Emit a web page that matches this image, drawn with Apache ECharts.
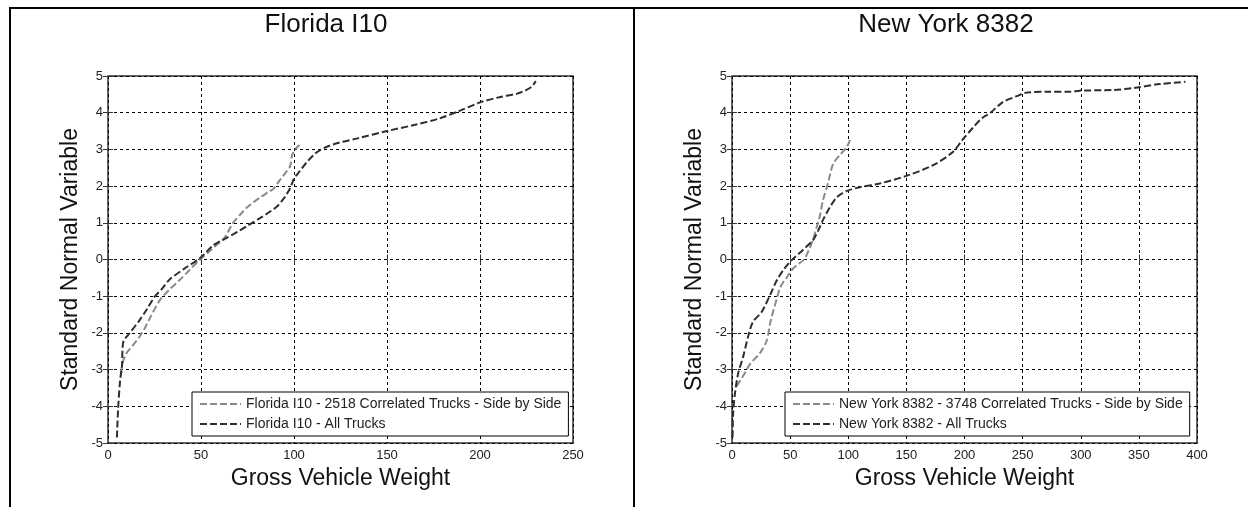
<!DOCTYPE html>
<html>
<head>
<meta charset="utf-8">
<title>GVW normal probability</title>
<script src="https://cdn.jsdelivr.net/npm/echarts@6/dist/echarts.min.js"></script>
<style>
  html, body { margin: 0; padding: 0; background: #fff; }
  #chart { width: 1248px; height: 507px; }
</style>
</head>
<body>
<div id="chart"></div>
<script>
// panel titles and legend names
var titles = ["Florida I10", "New York 8382"];
var flNames = ["Florida I10 - 2518 Correlated Trucks - Side by Side", "Florida I10 - All Trucks"];
var nyNames = ["New York 8382 - 3748 Correlated Trucks - Side by Side", "New York 8382 - All Trucks"];

// [gross vehicle weight, standard normal variable]
var flCorr = [
  [7, -3.1], [8, -2.8], [10, -2.55], [14, -2.3], [17, -2.1], [20, -1.85], [23, -1.55],
  [28, -1.1], [33, -0.82], [38.5, -0.56], [44, -0.28], [49.5, 0.0], [54, 0.2], [58.5, 0.4],
  [62, 0.55], [64, 0.7], [67, 0.98], [71, 1.22], [75, 1.43], [81.5, 1.68], [86, 1.83],
  [89, 1.93], [92.5, 2.17], [96, 2.4], [98, 2.55], [99, 2.85], [101.5, 3.05], [103, 3.12]
];
var flAll = [
  [4.8, -4.85], [5.4, -4.1], [6.5, -3.3], [7.5, -2.9], [8.2, -2.25], [11.8, -2.0], [17, -1.65],
  [21, -1.35], [25, -1.02], [29, -0.8], [33, -0.55], [41, -0.25], [49.5, 0.04], [56.5, 0.38],
  [63, 0.57], [69.5, 0.75], [75, 0.92], [81.5, 1.12], [87, 1.3], [91, 1.45], [95, 1.7],
  [98, 1.95], [100, 2.2], [103, 2.4], [107, 2.66], [111, 2.87], [114, 2.98], [118, 3.08],
  [124, 3.18], [134, 3.3], [150, 3.5], [165, 3.67], [178, 3.84], [189, 4.05], [200, 4.28],
  [211, 4.43], [220, 4.52], [225, 4.62], [228, 4.72], [230, 4.86]
];
var nyCorr = [
  [4, -3.45], [7, -3.3], [11, -3.1], [15.5, -2.85], [24, -2.55], [30, -2.2], [32.7, -1.75],
  [35.5, -1.4], [38.7, -1.05], [41, -0.8], [44, -0.62], [47, -0.5], [51, -0.3], [56, -0.15],
  [62, 0.0], [66, 0.25], [69.7, 0.55], [73, 0.9], [75.7, 1.2], [78.3, 1.62], [82.6, 2.08],
  [86.9, 2.6], [92.9, 2.85], [98.9, 3.07], [101.5, 3.26]
];
var nyAll = [
  [0.5, -4.84], [1, -4.18], [2.6, -3.64], [5.4, -3.09], [9.5, -2.66], [13.8, -2.11], [18, -1.7],
  [25.5, -1.43], [32.7, -0.97], [38.7, -0.56], [45, -0.25], [51.6, -0.01], [61, 0.26],
  [69.7, 0.53], [74, 0.78], [78.3, 1.08], [84.3, 1.43], [90.3, 1.7], [98.9, 1.87], [110, 1.97],
  [127, 2.07], [150, 2.28], [173, 2.57], [190, 2.93], [198, 3.25], [207.5, 3.6], [215, 3.85],
  [222, 3.99], [233, 4.29], [245, 4.45], [252, 4.54], [271, 4.57], [291, 4.57], [299, 4.6],
  [328, 4.62], [345, 4.67], [368, 4.78], [390, 4.84]
];

// axis ranges
var xMaxFl = 250, xMaxNy = 400, xStep = 50;
var yMin = -5, yMax = 5, yStep = 1;

var FONT = "Liberation Sans, Arial, sans-serif";
var GRAY = "#8a8a8a", DARK = "#2e2e2e";

function xAxisOf(gi, max, top) {
  return {
    type: "value", gridIndex: gi, min: 0, max: max, interval: xStep,
    position: top ? "top" : "bottom",
    name: top ? "" : "Gross Vehicle Weight",
    nameLocation: "middle", nameGap: 24,
    nameTextStyle: { fontFamily: FONT, fontSize: 23, color: "#111" },
    axisLine: { show: false },
    axisTick: { show: true, inside: true, length: 5, lineStyle: { color: "#333", width: 1 } },
    axisLabel: { show: !top, fontFamily: FONT, fontSize: 13, color: "#222", margin: 6 },
    splitLine: { show: !top, lineStyle: { color: "#000", width: 1, type: [3, 3] } }
  };
}
function yAxisOf(gi, right) {
  return {
    type: "value", gridIndex: gi, min: yMin, max: yMax, interval: yStep,
    position: right ? "right" : "left",
    name: right ? "" : "Standard Normal Variable",
    nameLocation: "middle", nameGap: 26,
    nameTextStyle: { fontFamily: FONT, fontSize: 23, color: "#111" },
    axisLine: { show: false },
    axisTick: { show: true, inside: true, length: 5, lineStyle: { color: "#333", width: 1 } },
    axisLabel: { show: !right, fontFamily: FONT, fontSize: 13, color: "#222", margin: 5 },
    splitLine: { show: !right, lineStyle: { color: "#000", width: 1, type: [3, 3] } }
  };
}
function lineOf(name, data, color, xi, yi) {
  return {
    type: "line", name: name, data: data, xAxisIndex: xi, yAxisIndex: yi,
    symbol: "none", smooth: 0.3, silent: true, animation: false,
    lineStyle: { color: color, width: 2, type: [7, 3] },
    itemStyle: { color: color }
  };
}
function legendOf(left, names) {
  return {
    left: left, top: 392, orient: "vertical", selectedMode: false,
    data: names, itemWidth: 41, itemHeight: 12, itemGap: 6,
    padding: [5, 7, 5, 7],
    borderColor: "#000", borderWidth: 1, backgroundColor: "#fff",
    // hide the marker that the line legend icon adds
    itemStyle: { color: "rgba(0,0,0,0)", borderWidth: 0, opacity: 0 },
    textStyle: { fontFamily: FONT, fontSize: 14, color: "#222" }
  };
}

var chart = echarts.init(document.getElementById("chart"), null, { renderer: "canvas" });
chart.setOption({
  backgroundColor: "#fff",
  animation: false,
  title: [
    { text: titles[0], left: 321, top: 7, textAlign: "center",
      textStyle: { fontFamily: FONT, fontSize: 26, fontWeight: "normal", color: "#111" } },
    { text: titles[1], left: 941, top: 7, textAlign: "center",
      textStyle: { fontFamily: FONT, fontSize: 26, fontWeight: "normal", color: "#111" } }
  ],
  grid: [
    { left: 108, top: 76, width: 465, height: 367, show: true, borderColor: "#333", borderWidth: 1.5,
      backgroundColor: "#fff", outerBoundsMode: "none" },
    { left: 732, top: 76, width: 465, height: 367, show: true, borderColor: "#333", borderWidth: 1.5,
      backgroundColor: "#fff", outerBoundsMode: "none" }
  ],
  xAxis: [xAxisOf(0, xMaxFl, false), xAxisOf(1, xMaxNy, false), xAxisOf(0, xMaxFl, true), xAxisOf(1, xMaxNy, true)],
  yAxis: [yAxisOf(0, false), yAxisOf(1, false), yAxisOf(0, true), yAxisOf(1, true)],
  legend: [legendOf(192, flNames), legendOf(785, nyNames)],
  series: [
    lineOf(flNames[0], flCorr, GRAY, 0, 0),
    lineOf(flNames[1], flAll, DARK, 0, 0),
    lineOf(nyNames[0], nyCorr, GRAY, 1, 1),
    lineOf(nyNames[1], nyAll, DARK, 1, 1)
  ],
  graphic: [
    { type: "line", shape: { x1: 9, y1: 8, x2: 1248, y2: 8 }, style: { stroke: "#000", lineWidth: 2 } },
    { type: "line", shape: { x1: 10, y1: 8, x2: 10, y2: 507 }, style: { stroke: "#000", lineWidth: 2 } },
    { type: "line", shape: { x1: 634, y1: 8, x2: 634, y2: 507 }, style: { stroke: "#000", lineWidth: 2 } }
  ]
});
</script>
</body>
</html>
